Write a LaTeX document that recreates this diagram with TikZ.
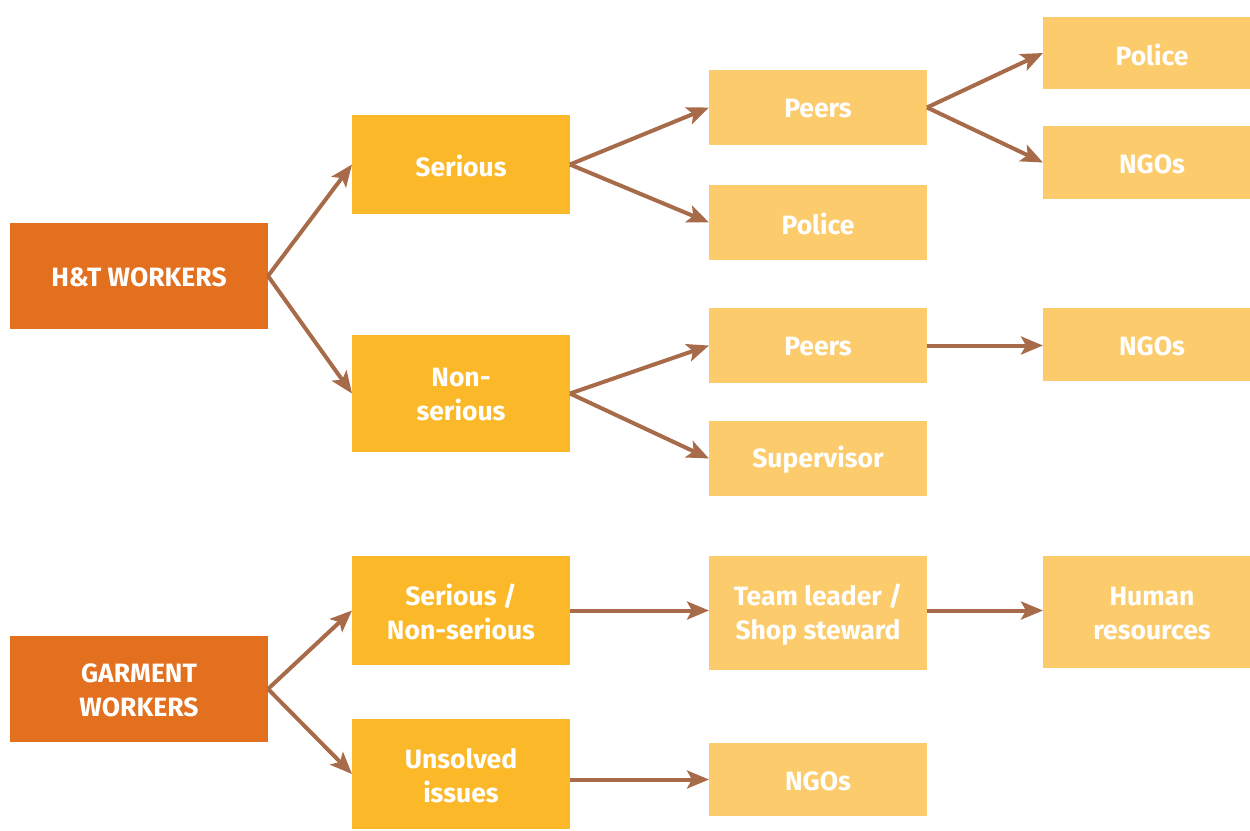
\documentclass[tikz,border=0pt]{standalone}
\usepackage{fontspec}
\setmainfont{Fira Sans}
\usetikzlibrary{arrows.meta}
\definecolor{dark}{HTML}{E2701E}
\definecolor{mid}{HTML}{FBB829}
\definecolor{light}{HTML}{FCCB6B}
\definecolor{arr}{HTML}{A86B4A}
\tikzset{
  box/.style={draw=none,inner sep=0pt,text=white,font=\fontsize{26.5}{34}\selectfont\bfseries,align=center},
  conn/.style={draw=arr,line width=4pt,-{Stealth[length=22pt,width=18pt,inset=5pt]}},
}
\newcommand{\bx}[7]{% name, x1,y1,x2,y2, color, text
  \fill[#6] (#2,#3) rectangle (#4,#5);
  \node[box] (#1) at ({(#2+#4)/2},{(#3+#5)/2+1.5}) {#7};
  \coordinate (#1-w) at (#2,{(#3+#5)/2});
  \coordinate (#1-e) at (#4,{(#3+#5)/2});
}
\begin{document}
\begin{tikzpicture}[x=1pt,y=-1pt]
\useasboundingbox (0,0) rectangle (1250,830);
\begin{scope}
\clip (0,0) rectangle (1250,830);
\bx{ht}{10}{223}{268}{329}{dark}{H\&T WORKERS}
\bx{gw}{10}{636}{268}{742}{dark}{GARMENT\\WORKERS}
\bx{ser}{352}{115}{570}{214}{mid}{Serious}
\bx{non}{352}{335}{570}{452}{mid}{Non-\\serious}
\bx{sn}{352}{556}{570}{665}{mid}{Serious /\\Non-serious}
\bx{uns}{352}{719}{570}{829}{mid}{Unsolved\\issues}
\bx{peA}{709}{70}{927}{145}{light}{Peers}
\bx{poA}{709}{185}{927}{260}{light}{Police}
\bx{peB}{709}{308}{927}{383}{light}{Peers}
\bx{sup}{709}{421}{927}{496}{light}{Supervisor}
\bx{tl}{709}{556}{927}{670}{light}{Team leader /\\Shop steward}
\bx{ngC}{709}{743}{927}{816}{light}{NGOs}
\bx{poB}{1043}{17}{1261}{89}{light}{Police}
\bx{ngA}{1043}{126}{1261}{199}{light}{NGOs}
\bx{ngB}{1043}{308}{1261}{381}{light}{NGOs}
\bx{hr}{1043}{556}{1261}{668}{light}{Human\\resources}
\end{scope}
\draw[conn] (ht-e) -- (ser-w);
\draw[conn] (ht-e) -- (non-w);
\draw[conn] (ser-e) -- (peA-w);
\draw[conn] (ser-e) -- (poA-w);
\draw[conn] (peA-e) -- (poB-w);
\draw[conn] (peA-e) -- (ngA-w);
\draw[conn] (non-e) -- (peB-w);
\draw[conn] (non-e) -- (sup-w);
\draw[conn] (peB-e) -- (peB-e -| ngB-w);
\draw[conn] (gw-e) -- (sn-w);
\draw[conn] (gw-e) -- (uns-w);
\draw[conn] (sn-e) -- (sn-e -| tl-w);
\draw[conn] (sn-e -| tl-e) -- (sn-e -| hr-w);
\draw[conn] (uns-e |- ngC-w) -- (ngC-w);
\end{tikzpicture}
\end{document}
